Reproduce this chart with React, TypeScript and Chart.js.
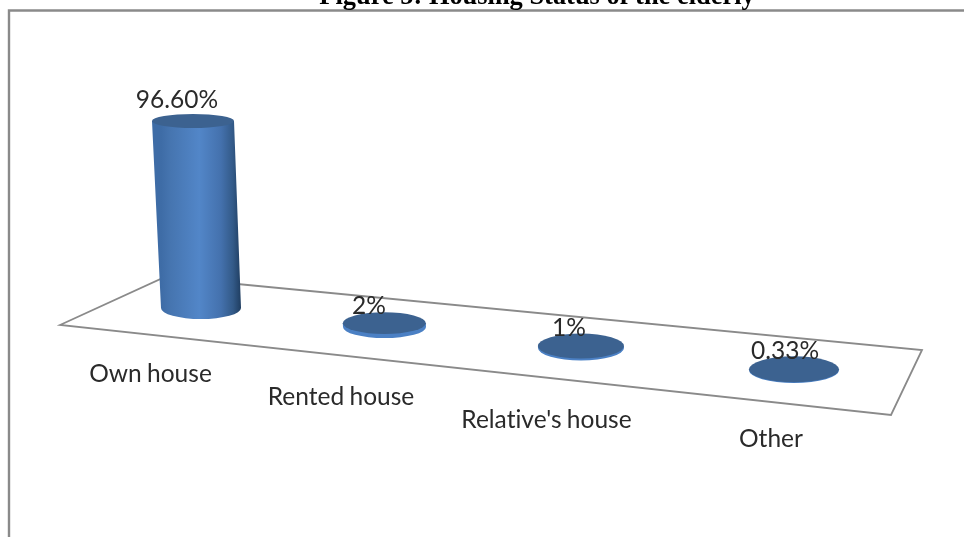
import React, { useEffect, useRef } from "react";
import { Chart, registerables } from "chart.js";

Chart.register(...registerables);

const categories = ["Own house", "Rented house", "Relative's house", "Other"];
const values = [96.6, 2, 1, 0.33];
const valueLabels = ["96.60%", "2%", "1%", "0.33%"];
const titleText = "Figure 5: Housing Status of the elderly";

// Perspective styling of each cylinder and its labels (offsets from the scale positions)
const shiftX = [0.5, -14, -15.5, -0.5];
const shiftY = [0, 19, 40, 62];
const radiusX = [40, 41.5, 43, 45];
const radiusY = [11, 11, 12.5, 13];
const valueLabelX = [177, 369, 569, 785];
const valueLabelY = [108, 314, 336, 359];
const catLabelX = [150.5, 341, 546.5, 771];
const catLabelY = [382, 405, 428, 447];
const LEAN = 8 / 187;
const TOP_SQUASH = 4 / 187;

const FONT = "24.5px Lato";

const scenePlugin = {
  id: "scene",
  beforeDatasetsDraw(chart: any) {
    const ctx = chart.ctx;
    ctx.save();
    // outer frame
    ctx.strokeStyle = "#8a8a8a";
    ctx.lineWidth = 2.4;
    ctx.beginPath();
    ctx.moveTo(9, 537);
    ctx.lineTo(9, 10.5);
    ctx.lineTo(964, 10.5);
    ctx.stroke();
    // floor
    ctx.strokeStyle = "#8a8a8a";
    ctx.lineWidth = 1.8;
    ctx.beginPath();
    ctx.moveTo(60, 325);
    ctx.lineTo(165, 277);
    ctx.lineTo(922, 350);
    ctx.lineTo(891, 415);
    ctx.closePath();
    ctx.stroke();
    ctx.restore();
  },
  afterDatasetsDraw(chart: any) {
    const ctx = chart.ctx;
    const bars = chart.getDatasetMeta(0).data;
    bars.forEach((bar: any, i: number) => {
      const h = bar.base - bar.y;
      const cx = bar.x + shiftX[i];
      const by = bar.base + shiftY[i];
      const rx = radiusX[i];
      const ry = radiusY[i];
      const tx = cx - h * LEAN;
      const ty = by - h;
      const trx = rx + h * (1 / 187);
      const tryy = ry - h * TOP_SQUASH;

      const grad = ctx.createLinearGradient(cx - rx, 0, cx + rx, 0);
      grad.addColorStop(0, "#3e6ca6");
      grad.addColorStop(0.12, "#4675b0");
      grad.addColorStop(0.48, "#5286c8");
      grad.addColorStop(0.75, "#4471ad");
      grad.addColorStop(0.9, "#335a88");
      grad.addColorStop(1, "#1f3d60");

      ctx.save();
      ctx.fillStyle = i === 0 ? grad : "#4b80c4";
      ctx.beginPath();
      ctx.moveTo(tx - trx, ty);
      ctx.lineTo(cx - rx, by);
      ctx.ellipse(cx, by, rx, ry, 0, Math.PI, 0, true);
      ctx.lineTo(tx + trx, ty);
      ctx.closePath();
      ctx.fill();
      ctx.fillStyle = "#3c6290";
      ctx.beginPath();
      ctx.ellipse(tx, ty, trx, tryy, 0, 0, Math.PI * 2);
      ctx.fill();
      ctx.restore();
    });

    ctx.save();
    ctx.filter = "blur(0.4px)";
    ctx.fillStyle = "#2a2a2a";
    ctx.font = FONT;
    ctx.letterSpacing = "0.01px";
    ctx.wordSpacing = "-1px";
    ctx.textAlign = "center";
    ctx.textBaseline = "alphabetic";
    valueLabels.forEach((t, i) => ctx.fillText(t, valueLabelX[i], valueLabelY[i]));
    categories.forEach((t, i) => ctx.fillText(t, catLabelX[i], catLabelY[i]));
    ctx.wordSpacing = "0px";
    ctx.fillStyle = "#000000";
    ctx.font = "bold 26.4px 'Liberation Serif'";
    ctx.fillText(titleText, 537, 4);
    ctx.restore();
  },
};

export default function App() {
  const ref = useRef<HTMLCanvasElement>(null);
  useEffect(() => {
    const chart = new Chart(ref.current!, {
      type: "bar",
      data: {
        labels: categories,
        datasets: [{ data: values, backgroundColor: "rgba(0,0,0,0)", borderWidth: 0 }],
      },
      options: {
        animation: false,
        responsive: false,
        layout: { padding: { left: 101.5, right: 70.5, top: 114.4, bottom: 229 } },
        plugins: { legend: { display: false }, title: { display: false }, tooltip: { enabled: false } },
        scales: {
          x: { display: false },
          y: { display: false, min: 0, max: 100 },
        },
      },
      plugins: [scenePlugin],
    } as any);
    return () => chart.destroy();
  }, []);
  return (
    <div style={{ position: "absolute", left: 0, top: 0, width: 964, height: 537, background: "#fff" }}>
      <canvas ref={ref} width={964} height={537} style={{ display: "block" }} />
    </div>
  );
}
